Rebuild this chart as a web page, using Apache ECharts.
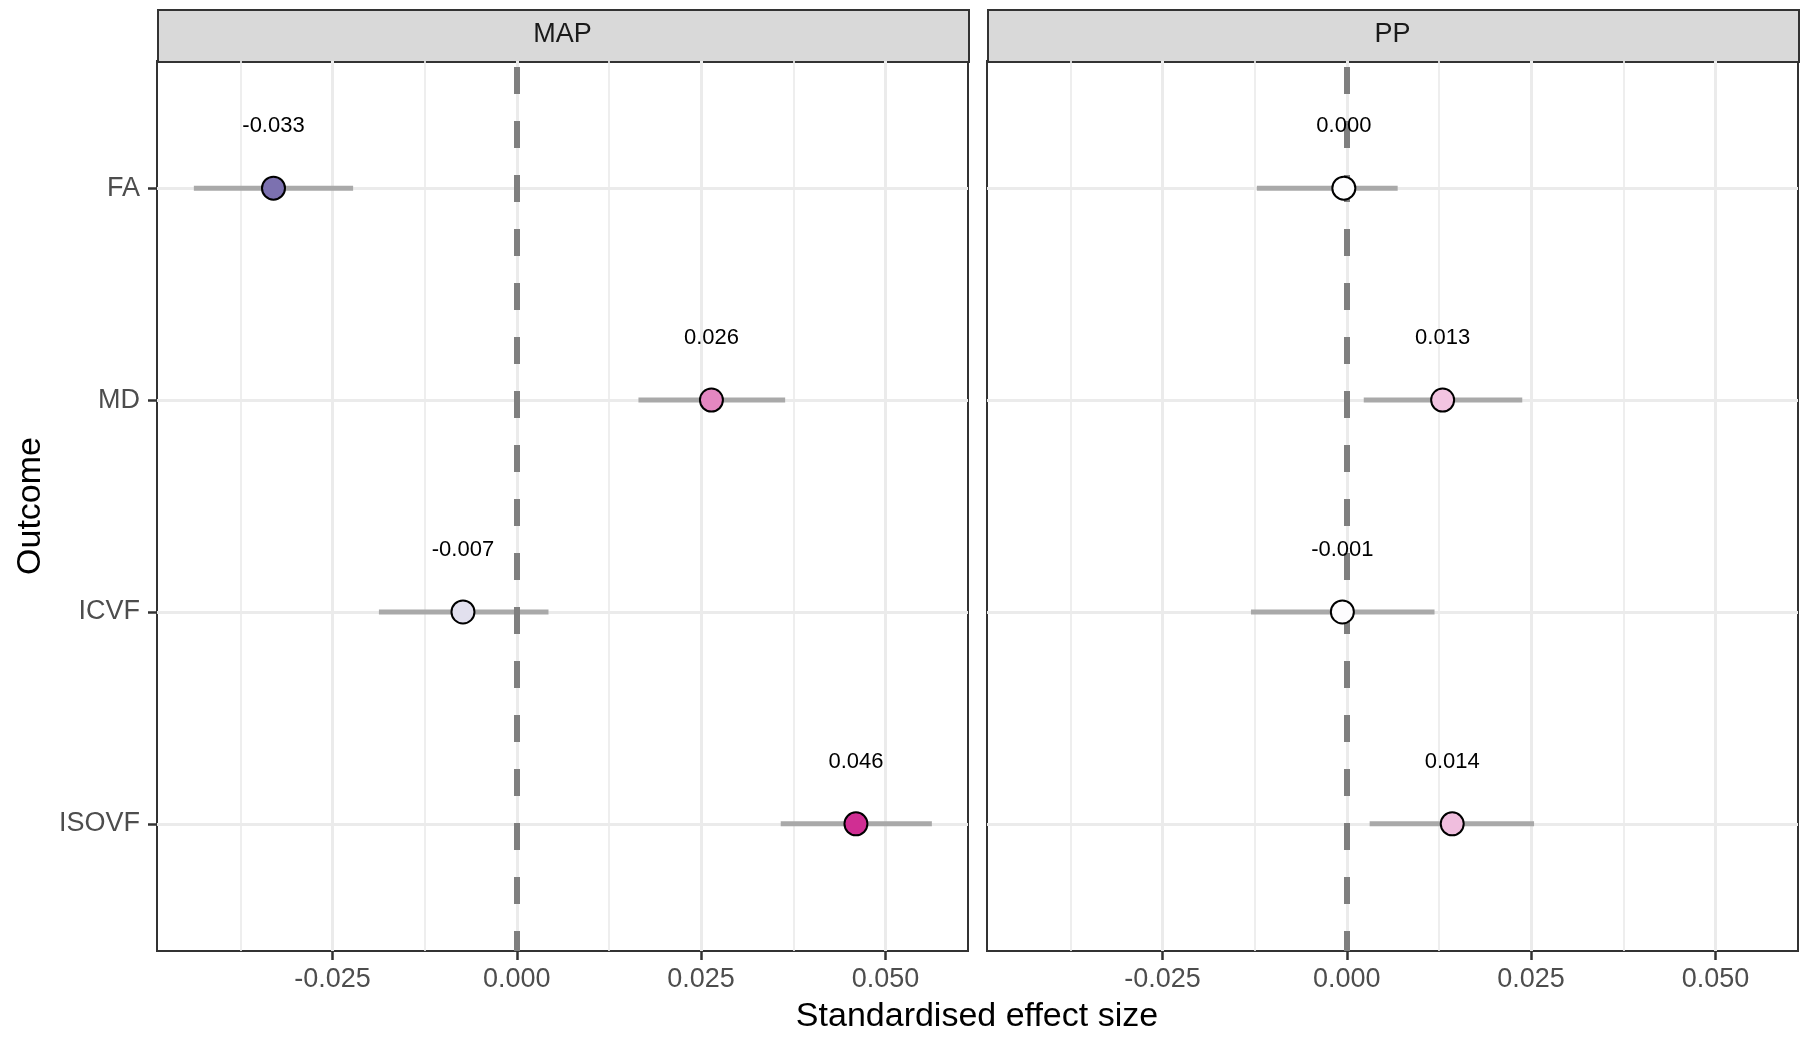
<!DOCTYPE html>
<html>
<head>
<meta charset="utf-8">
<style>
  html, body { margin: 0; padding: 0; background: #fff; }
  #chart { width: 1800px; height: 1037px; }
</style>
<script src="https://cdn.jsdelivr.net/npm/echarts@6/dist/echarts.min.js"></script>
</head>
<body>
<div id="chart"></div>
<script>
// outcomes, top to bottom
var outcomes = ['FA', 'MD', 'ICVF', 'ISOVF'];
var panels = ['MAP', 'PP'];

// standardised effect + interval, per panel
var mapEst = [-0.0330, 0.0264, -0.0073, 0.0460];
var mapLow = [-0.0438, 0.0165, -0.0187, 0.0358];
var mapHigh = [-0.0222, 0.0364, 0.0043, 0.0563];

var ppEst = [-0.0004, 0.0130, -0.0006, 0.0143];
var ppLow = [-0.0122, 0.0023, -0.0130, 0.0031];
var ppHigh = [0.0069, 0.0238, 0.0119, 0.0254];

var xTicks = [-0.025, 0, 0.025, 0.05];
var xMinor = [-0.0375, -0.0125, 0.0125, 0.0375];
var xRange = [-0.0488, 0.0612];

(function(){
  var myChart = echarts.init(document.getElementById('chart'));
  var font = 'Liberation Sans, Arial, Helvetica, sans-serif';
  var est = [mapEst, ppEst];
  var low = [mapLow, ppLow];
  var high = [mapHigh, ppHigh];
  var yCats = outcomes.map(function(o, i){ return i + 1; });

  var gridTop = 61, gridH = 890;
  var grids = [
    { left: 157, top: gridTop, width: 811, height: gridH },
    { left: 987, top: gridTop, width: 811, height: gridH }
  ];

  function fmt(v) {
    var s = v.toFixed(3);
    if (s === '-0.000') s = '0.000';
    return s;
  }

  function renderBar(params, api) {
    var y = api.value(2);
    var a = api.coord([api.value(0), y]);
    var b = api.coord([api.value(1), y]);
    return {
      type: 'line',
      shape: { x1: a[0], y1: a[1], x2: b[0], y2: b[1] },
      style: { stroke: '#a9a9a9', lineWidth: 5 }
    };
  }

  // markLine rounds to 2 decimals unless precision is raised
  function gridLines(p, z, width, data) {
    return {
      type: 'line', xAxisIndex: p, yAxisIndex: p, data: [], z: z, silent: true,
      markLine: {
        z: z, silent: true, precision: 6, symbol: ['none', 'none'], label: { show: false },
        lineStyle: { color: '#ebebeb', width: width, type: 'solid' },
        data: data
      }
    };
  }

  var xAxes = [], yAxes = [], series = [], scatterIdx = [], graphics = [];
  panels.forEach(function(name, p){
    grids[p].show = true;
    grids[p].borderColor = '#333333';
    grids[p].borderWidth = 2;
    grids[p].backgroundColor = '#ffffff';

    xAxes.push({
      type: 'value', gridIndex: p, min: xRange[0], max: xRange[1],
      axisLine: { show: false, onZero: false },
      axisTick: { show: true, length: 9, customValues: xTicks, lineStyle: { color: '#333333', width: 2.5 } },
      axisLabel: { customValues: xTicks, formatter: function(v){ return v.toFixed(3); },
        color: '#4d4d4d', fontSize: 27, fontFamily: font, margin: 15 },
      splitLine: { show: false }
    });
    yAxes.push({
      type: 'value', gridIndex: p, min: 0.4, max: 4.6, inverse: true,
      axisLine: { show: false, onZero: false },
      axisTick: { show: p === 0, length: 9, customValues: yCats, lineStyle: { color: '#333333', width: 2.5 } },
      axisLabel: { show: p === 0, customValues: yCats,
        formatter: function(v){ return outcomes[Math.round(v) - 1]; },
        color: '#4d4d4d', fontSize: 27, fontFamily: font, margin: 17 },
      splitLine: { show: false }
    });

    // panel grid: minor then major lines
    series.push(gridLines(p, 1, 1.7, xMinor.map(function(v){ return { xAxis: v }; })));
    series.push(gridLines(p, 1, 3,
      xTicks.map(function(v){ return { xAxis: v }; })
        .concat(yCats.map(function(v){ return { yAxis: v }; }))));

    series.push({
      type: 'custom', xAxisIndex: p, yAxisIndex: p, z: 2,
      renderItem: renderBar,
      encode: { x: [0, 1], y: 2 },
      data: outcomes.map(function(o, i){ return [low[p][i], high[p][i], i + 1]; })
    });

    // reference line at zero
    series.push({
      type: 'line', xAxisIndex: p, yAxisIndex: p, data: [], z: 3, silent: true,
      markLine: {
        z: 3, silent: true, precision: 6, symbol: ['none', 'none'], label: { show: false },
        lineStyle: { color: '#7f7f7f', width: 6, type: [27, 27], dashOffset: 48 },
        data: [{ xAxis: 0 }]
      }
    });

    scatterIdx.push(series.length);
    series.push({
      type: 'scatter', xAxisIndex: p, yAxisIndex: p, z: 4,
      symbolSize: 23,
      itemStyle: { borderColor: '#000000', borderWidth: 2, opacity: 1 },
      label: {
        show: true, position: 'inside', offset: [0, -62],
        formatter: function(d){ return fmt(d.value[0]); },
        color: '#000000', fontSize: 22, fontFamily: font
      },
      data: outcomes.map(function(o, i){ return [est[p][i], i + 1]; })
    });

    // facet strip
    graphics.push({
      type: 'rect', left: grids[p].left, top: 9,
      shape: { width: grids[p].width, height: 52 },
      style: { fill: '#d9d9d9', stroke: '#333333', lineWidth: 2 }
    });
    graphics.push({
      type: 'text', x: grids[p].left + grids[p].width / 2, y: 35,
      style: { text: name, fill: '#1a1a1a', font: '27px ' + font, textAlign: 'center', textVerticalAlign: 'middle' }
    });
  });

  graphics.push({
    type: 'text', x: 977, y: 1017,
    style: { text: 'Standardised effect size', fill: '#000000', font: '34px ' + font, textAlign: 'center', textVerticalAlign: 'middle' }
  });
  graphics.push({
    type: 'text', x: 31, y: 506, rotation: Math.PI / 2,
    style: { text: 'Outcome', fill: '#000000', font: '34px ' + font, textAlign: 'center', textVerticalAlign: 'middle' }
  });

  var option = {
    animation: false,
    backgroundColor: '#ffffff',
    grid: grids,
    xAxis: xAxes,
    yAxis: yAxes,
    visualMap: {
      type: 'continuous', show: false, dimension: 0,
      min: -0.05, max: 0.05, seriesIndex: scatterIdx,
      inRange: { color: ['#382888', '#ffffff', '#cc1c8a'] }
    },
    graphic: graphics,
    series: series
  };
  myChart.setOption(option);
})();
</script>
</body>
</html>
